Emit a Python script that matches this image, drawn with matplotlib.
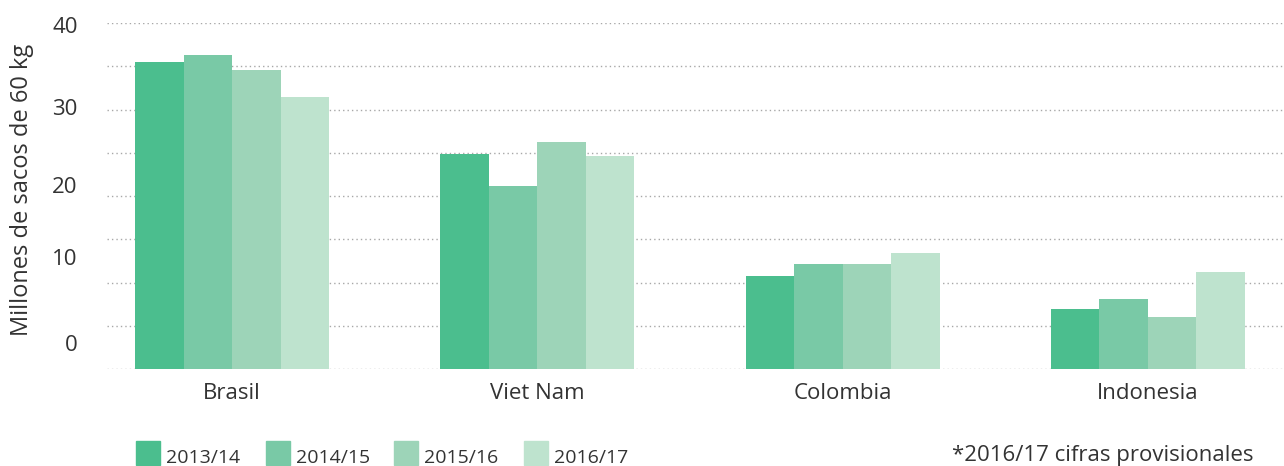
import matplotlib
matplotlib.use("Agg")
import matplotlib.pyplot as plt
from matplotlib.patches import Rectangle
import numpy as np

plt.rcParams['font.family'] = ['Open Sans', 'DejaVu Sans']

countries = ["Brasil", "Viet Nam", "Colombia", "Indonesia"]
seasons = ["2013/14", "2014/15", "2015/16", "2016/17"]
v_2013 = [35.5, 24.9, 10.75, 6.9]
v_2014 = [36.3, 21.2, 12.1, 8.1]
v_2015 = [34.6, 26.2, 12.1, 6.0]
v_2016 = [31.4, 24.6, 13.4, 11.2]
series = [v_2013, v_2014, v_2015, v_2016]
colors = ["#4BBE8E", "#79C9A6", "#9DD4B8", "#BEE3CE"]
# labels as placed in the reference (visually offset from gridlines)
ytick_pos = [3.0, 12.9, 21.3, 30.3, 39.8]
ytick_lab = ["0", "10", "20", "30", "40"]
grid_vals = np.arange(0, 41, 5)
footnote = "*2016/17 cifras provisionales"
ylabel = "Millones de sacos de 60 kg"

W, H = 1284, 466
fig = plt.figure(figsize=(W / 100, H / 100), dpi=100)
ax = fig.add_axes([107 / W, 1 - 369 / H, 1 - 107 / W, (369 - 23) / H])

x = np.arange(len(countries))
bw = 0.159
for i, (vals, c) in enumerate(zip(series, colors)):
    ax.bar(x + (i - 1.5) * bw, vals, width=bw, color=c, zorder=3, linewidth=0)

ax.set_xlim(-0.41, 3.446)
ax.set_ylim(0, 40)

ax.set_yticks(grid_vals, minor=True)
ax.set_yticks(ytick_pos)
ax.set_yticklabels(ytick_lab)
ax.yaxis.grid(True, which='minor', color='#a8a8a8', linestyle=(0, (1, 2.2)), linewidth=1.0, zorder=0)
ax.tick_params(axis='y', which='both', length=0, pad=21, labelsize=16, labelcolor='#333333')

ax.set_xticks(x)
ax.set_xticklabels(countries)
ax.tick_params(axis='x', length=0, pad=10, labelsize=16, labelcolor='#333333')

for s in ax.spines.values():
    s.set_visible(False)
ax.set_axisbelow(True)

fig.text(22 / W, 1 - 190 / H, ylabel, rotation=90, ha='center', va='center',
         fontsize=17, color='#333333')

# legend
leg_x = [136, 266, 394, 524]
for lx, lab, c in zip(leg_x, seasons, colors):
    fig.patches.append(Rectangle((lx / W, 1 - 465 / H), 24 / W, 24 / H,
                                 transform=fig.transFigure, color=c, figure=fig))
    fig.text((lx + 30) / W, 1 - 458 / H, lab, ha='left', va='center',
             fontsize=14, color='#333333')

fig.text(1253 / W, 1 - 456 / H, footnote, ha='right', va='center',
         fontsize=16, color='#333333')

fig.savefig("out.png", dpi=100)
